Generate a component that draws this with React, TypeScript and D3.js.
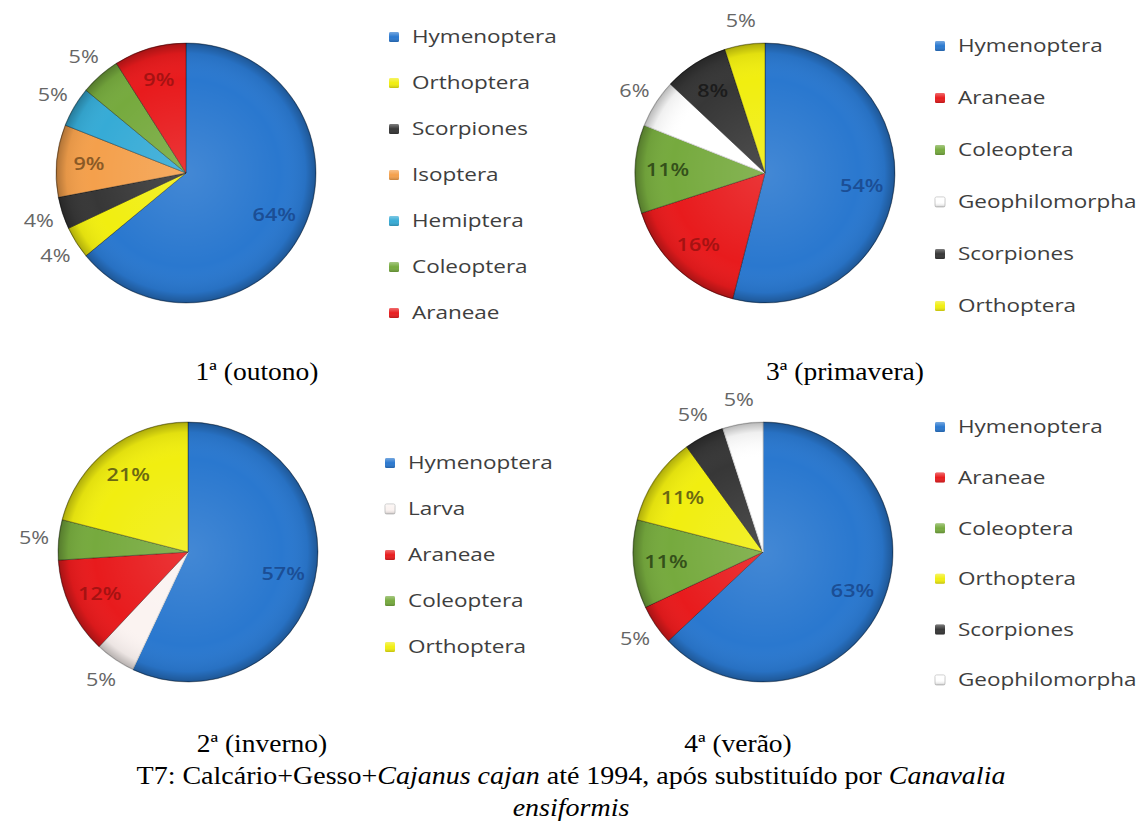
import React from 'react';
import * as d3 from 'd3';

// ---- data ----
const catsOutono = ['Hymenoptera', 'Orthoptera', 'Scorpiones', 'Isoptera', 'Hemiptera', 'Coleoptera', 'Araneae'];
const valsOutono = [64, 4, 4, 9, 5, 5, 9];
const catsPrimavera = ['Hymenoptera', 'Araneae', 'Coleoptera', 'Geophilomorpha', 'Scorpiones', 'Orthoptera'];
const valsPrimavera = [54, 16, 11, 6, 8, 5];
const catsInverno = ['Hymenoptera', 'Larva', 'Araneae', 'Coleoptera', 'Orthoptera'];
const valsInverno = [57, 5, 12, 5, 21];
const catsVerao = ['Hymenoptera', 'Araneae', 'Coleoptera', 'Orthoptera', 'Scorpiones', 'Geophilomorpha'];
const valsVerao = [63, 5, 11, 11, 5, 5];
const panelTitles = ['1ª (outono)', '3ª (primavera)', '2ª (inverno)', '4ª (verão)'];

// ---- styles ----
const fillColor: Record<string, string> = {
  Hymenoptera: '#2a78cf',
  Araneae: '#e81b1d',
  Orthoptera: '#f1ee10',
  Scorpiones: '#373737',
  Isoptera: '#f4a04c',
  Hemiptera: '#36abd6',
  Coleoptera: '#76aa3e',
  Geophilomorpha: '#ffffff',
  Larva: '#fbf3f1',
};
const insideText: Record<string, string> = {
  Hymenoptera: '#1b4e95',
  Araneae: '#a51212',
  Orthoptera: '#6b6812',
  Scorpiones: '#1c1c1c',
  Isoptera: '#8a5a26',
  Coleoptera: '#34501a',
};

const R = 130;
const panels = [
  { cats: catsOutono, vals: valsOutono, cx: 186, cy: 173, lx: 389, ly: 37, ls: 46, title: panelTitles[0], tx: 257, ty: 380 },
  { cats: catsPrimavera, vals: valsPrimavera, cx: 765, cy: 173, lx: 935, ly: 46, ls: 52, title: panelTitles[1], tx: 845, ty: 380 },
  { cats: catsInverno, vals: valsInverno, cx: 188, cy: 552, lx: 385, ly: 463, ls: 46, title: panelTitles[2], tx: 262, ty: 752 },
  { cats: catsVerao, vals: valsVerao, cx: 763, cy: 552, lx: 935, ly: 427, ls: 50.6, title: panelTitles[3], tx: 738, ty: 752 },
];

const sansFont = "'Open Sans', 'DejaVu Sans', sans-serif";
const serifFont = "'Liberation Serif', 'Times New Roman', serif";

type Datum = { cat: string; val: number };

function Pie({ p }: { p: typeof panels[number] }) {
  const data: Datum[] = p.cats.map((c, i) => ({ cat: c, val: p.vals[i] }));
  const arcs = d3.pie<Datum>().sort(null).value(d => d.val)(data);
  const arc = d3.arc<d3.PieArcDatum<Datum>>().innerRadius(0).outerRadius(R);
  const inArc = d3.arc<d3.PieArcDatum<Datum>>().innerRadius(R * 0.75).outerRadius(R * 0.75);
  const outArc = d3.arc<d3.PieArcDatum<Datum>>().innerRadius(R * 1.19).outerRadius(R * 1.19);
  return (
    <g>
      <g transform={`translate(${p.cx},${p.cy})`}>
        {arcs.map((a, i) => (
          <path key={i} d={arc(a) || ''} fill={fillColor[a.data.cat]}
            stroke={a.data.cat === 'Geophilomorpha' || a.data.cat === 'Larva' ? '#d8d8d8' : 'rgba(0,0,0,0.35)'} strokeWidth={1} />
        ))}
        <circle r={R} fill="url(#pieShade)" />
        <circle r={R - 0.5} fill="none" stroke="rgba(0,0,0,0.15)" strokeWidth={1} />
        {arcs.map((a, i) => {
          const inside = a.data.val >= 7;
          const [x, y] = inside ? inArc.centroid(a) : outArc.centroid(a);
          return (
            <text key={'l' + i} transform={`translate(${x},${y}) scale(1.2,1)`} textAnchor="middle" dy="0.36em"
              fontFamily={sansFont} fontSize={18} fontWeight={inside ? 600 : 400}
              fill={inside ? insideText[a.data.cat] : '#666666'}>
              {a.data.val}%
            </text>
          );
        })}
      </g>
      <g>
        {p.cats.map((c, i) => {
          const y = p.ly + i * p.ls;
          const white = c === 'Geophilomorpha' || c === 'Larva';
          return (
            <g key={'k' + i}>
              <rect x={p.lx} y={y - 5} width={10} height={10} rx={1.5} fill={fillColor[c]}
                stroke={white ? '#c8c8c8' : 'none'} strokeWidth={1} />
              <rect x={p.lx} y={y - 5} width={10} height={10} rx={1.5} fill="url(#keyShade)" />
              <text transform={`translate(${p.lx + 23},${y}) scale(1.25,1)`} dy="0.36em"
                fontFamily={sansFont} fontSize={18} fill="#3e3e3e">{c}</text>
            </g>
          );
        })}
      </g>
      <text transform={`translate(${p.tx},${p.ty}) scale(1.1,1)`} textAnchor="middle"
        fontFamily={serifFont} fontSize={25} fill="#000">{p.title}</text>
    </g>
  );
}

export default function App() {
  return (
    <svg width={1142} height={828} style={{ position: 'absolute', left: 0, top: 0, background: '#fff' }}>
      <defs>
        <radialGradient id="pieShade" cx="50%" cy="50%" r="50%">
          <stop offset="0" stopColor="#fff" stopOpacity={0.12} />
          <stop offset="0.72" stopColor="#fff" stopOpacity={0} />
          <stop offset="0.92" stopColor="#000" stopOpacity={0.06} />
          <stop offset="1" stopColor="#000" stopOpacity={0.28} />
        </radialGradient>
        <linearGradient id="keyShade" x1="0" y1="0" x2="0" y2="1">
          <stop offset="0" stopColor="#fff" stopOpacity={0.35} />
          <stop offset="0.5" stopColor="#fff" stopOpacity={0} />
          <stop offset="1" stopColor="#000" stopOpacity={0.2} />
        </linearGradient>
      </defs>
      <rect width={1142} height={828} fill="#fff" />
      {panels.map((p, i) => <Pie key={i} p={p} />)}
      <text transform="translate(571,784) scale(1.12,1)" textAnchor="middle" fontFamily={serifFont} fontSize={25} fill="#000">
        T7: Calcário+Gesso+<tspan fontStyle="italic">Cajanus cajan</tspan> até 1994, após substituído por <tspan fontStyle="italic">Canavalia</tspan>
      </text>
      <text transform="translate(571,816) scale(1.12,1)" textAnchor="middle" fontFamily={serifFont} fontSize={25} fontStyle="italic" fill="#000">
        ensiformis
      </text>
    </svg>
  );
}
